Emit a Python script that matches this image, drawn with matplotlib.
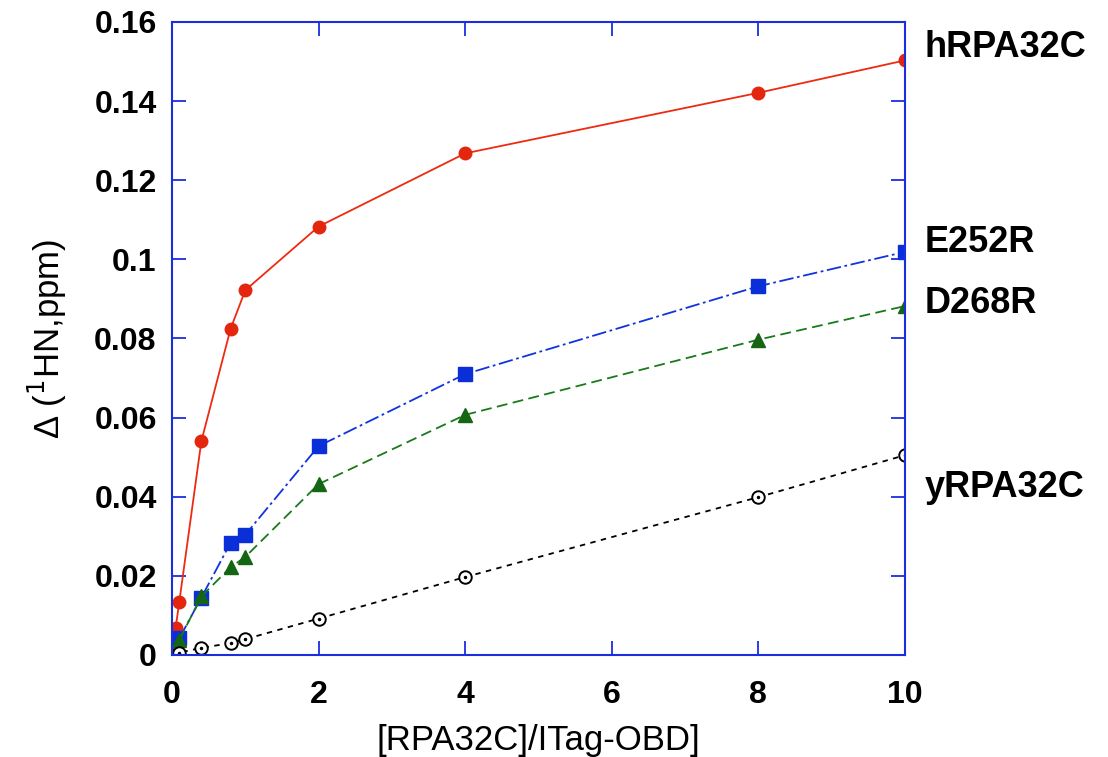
import matplotlib.pyplot as plt

plt.rcParams['font.family'] = ['Liberation Sans', 'DejaVu Sans']

# titration ratios and shifts
x_h = [0.05, 0.1, 0.4, 0.8, 1, 2, 4, 8, 10]
h_rpa = [0.0069, 0.0135, 0.054, 0.0825, 0.0922, 0.1083, 0.1268, 0.1421, 0.1503]

x_mut = [0.1, 0.4, 0.8, 1, 2, 4, 8, 10]
e252r = [0.0042, 0.0145, 0.0284, 0.0304, 0.0528, 0.071, 0.0932, 0.1019]
d268r = [0.0038, 0.0148, 0.0222, 0.0248, 0.0432, 0.0607, 0.0797, 0.0882]

x_y = [0, 0.1, 0.4, 0.8, 1, 2, 4, 8, 10]
y_rpa = [0.0, 0.0006, 0.0018, 0.003, 0.004, 0.0092, 0.0197, 0.0399, 0.0505]

series_labels = ['hRPA32C', 'E252R', 'D268R', 'yRPA32C']
label_y = [0.1535, 0.1042, 0.0889, 0.0424]

fig = plt.figure(figsize=(11.08, 7.57), dpi=100)
ax = fig.add_axes([172 / 1108, 1 - 655 / 757, (905 - 172) / 1108, (655 - 22) / 757])

ax.plot(x_h, h_rpa, '-', color='#ee2a10', lw=1.3, marker='o', ms=9,
        mfc='#e4260e', mec='#e4260e')
ax.plot(x_mut, e252r, linestyle=(0, (8, 2, 1.5, 2)), color='#1033dd', lw=1.3,
        marker='s', ms=10, mfc='#0a2fd8', mec='#0a2fd8')
ax.plot(x_mut, d268r, linestyle=(0, (6, 3)), color='#1a7a1a', lw=1.3,
        marker='^', ms=10, mfc='#146614', mec='#146614')
ax.plot(x_y, y_rpa, linestyle=(0, (3, 3)), color='black', lw=1.3,
        marker='o', ms=9, mfc='white', mec='black', mew=1.4)
ax.plot(x_y, y_rpa, linestyle='none', marker='.', ms=3, color='black')

ax.set_xlim(0, 10)
ax.set_ylim(0, 0.16)
ax.set_xticks([0, 2, 4, 6, 8, 10])
ax.set_yticks([0, 0.02, 0.04, 0.06, 0.08, 0.1, 0.12, 0.14, 0.16])
ax.set_yticklabels(['0', '0.02', '0.04', '0.06', '0.08', '0.1', '0.12', '0.14', '0.16'])

for s in ax.spines.values():
    s.set_color('#1a2ee0')
    s.set_linewidth(1.5)
ax.tick_params(direction='in', length=10, width=1.3, color='#1a2ee0',
               top=True, right=True, labelsize=23)
ax.tick_params(axis='x', pad=18)
ax.tick_params(axis='y', pad=11)
for lab in ax.get_xticklabels() + ax.get_yticklabels():
    lab.set_fontweight('bold')

ax.set_xlabel('[RPA32C]/ITag-OBD]', fontsize=25, labelpad=10)
ax.set_ylabel('Δ ($^1$HN,ppm)', fontsize=25, labelpad=18)

# curve labels at the right edge
for name, v in zip(series_labels, label_y):
    ax.annotate(name, xy=(10, v), xytext=(14, 0), textcoords='offset points',
                annotation_clip=False, fontsize=26, fontweight='bold', va='center')

fig.savefig('out.png', dpi=100)
